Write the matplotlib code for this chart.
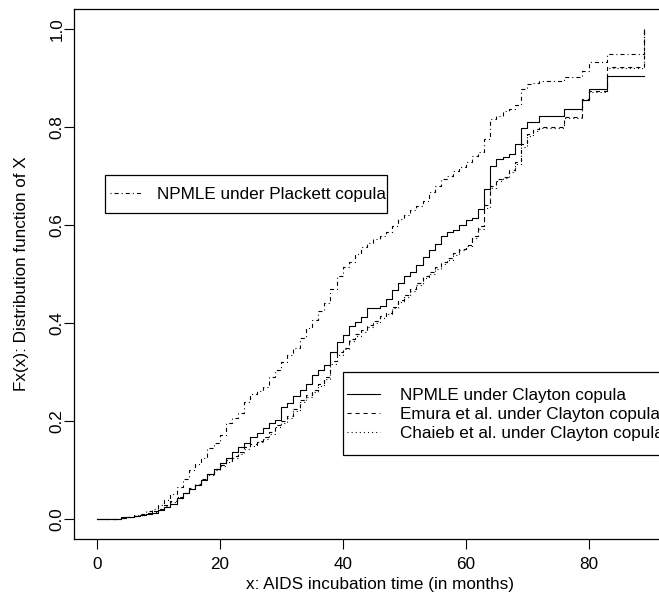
import matplotlib
matplotlib.use("Agg")
import matplotlib.pyplot as plt
from matplotlib.path import Path

plt.rcParams['font.family'] = ['Liberation Sans', 'DejaVu Sans']
plt.rcParams['lines.scale_dashes'] = False

months = list(range(0, 90))

npmle_clayton = [
    0.000, 0.000, 0.000, 0.000, 0.004, 0.005, 0.007, 0.008, 0.010, 0.013,
    0.018, 0.024, 0.031, 0.042, 0.053, 0.061, 0.069, 0.080, 0.091, 0.103,
    0.114, 0.124, 0.136, 0.147, 0.156, 0.168, 0.176, 0.185, 0.196, 0.203,
    0.229, 0.237, 0.252, 0.264, 0.276, 0.294, 0.304, 0.315, 0.340, 0.362,
    0.375, 0.393, 0.403, 0.413, 0.431, 0.431, 0.434, 0.450, 0.468, 0.482,
    0.495, 0.505, 0.519, 0.535, 0.550, 0.562, 0.577, 0.585, 0.590, 0.600,
    0.610, 0.615, 0.632, 0.673, 0.720, 0.734, 0.738, 0.744, 0.765, 0.797,
    0.810, 0.810, 0.822, 0.822, 0.822, 0.822, 0.836, 0.836, 0.836, 0.855,
    0.877, 0.877, 0.877, 0.904, 0.904, 0.904, 0.904, 0.904, 0.904, 0.904]

emura_clayton = [
    0.000, 0.000, 0.000, 0.000, 0.003, 0.005, 0.007, 0.009, 0.012, 0.016,
    0.021, 0.028, 0.036, 0.045, 0.054, 0.063, 0.071, 0.081, 0.091, 0.102,
    0.111, 0.120, 0.128, 0.136, 0.146, 0.153, 0.160, 0.167, 0.178, 0.192,
    0.200, 0.210, 0.225, 0.243, 0.254, 0.264, 0.276, 0.290, 0.322, 0.340,
    0.350, 0.368, 0.377, 0.386, 0.396, 0.404, 0.414, 0.421, 0.433, 0.446,
    0.458, 0.470, 0.482, 0.495, 0.505, 0.515, 0.525, 0.532, 0.542, 0.552,
    0.560, 0.577, 0.597, 0.640, 0.679, 0.693, 0.698, 0.712, 0.728, 0.765,
    0.785, 0.795, 0.800, 0.800, 0.800, 0.800, 0.820, 0.820, 0.820, 0.857,
    0.873, 0.873, 0.873, 0.922, 0.922, 0.922, 0.922, 0.922, 0.922, 1.000]

chaieb_clayton = [
    0.000, 0.000, 0.000, 0.000, 0.003, 0.005, 0.006, 0.008, 0.011, 0.015,
    0.020, 0.027, 0.035, 0.044, 0.053, 0.061, 0.069, 0.079, 0.089, 0.099,
    0.108, 0.117, 0.125, 0.133, 0.142, 0.150, 0.157, 0.164, 0.174, 0.188,
    0.196, 0.206, 0.221, 0.238, 0.250, 0.260, 0.272, 0.286, 0.316, 0.335,
    0.346, 0.363, 0.373, 0.382, 0.392, 0.400, 0.410, 0.418, 0.430, 0.442,
    0.454, 0.466, 0.478, 0.491, 0.501, 0.511, 0.521, 0.529, 0.539, 0.549,
    0.557, 0.573, 0.592, 0.634, 0.675, 0.690, 0.696, 0.708, 0.724, 0.760,
    0.781, 0.792, 0.798, 0.798, 0.798, 0.798, 0.818, 0.818, 0.818, 0.855,
    0.871, 0.871, 0.871, 0.920, 0.920, 0.920, 0.920, 0.920, 0.920, 1.000]

npmle_plackett = [
    0.000, 0.000, 0.000, 0.000, 0.003, 0.005, 0.008, 0.011, 0.016, 0.021,
    0.028, 0.038, 0.052, 0.065, 0.082, 0.100, 0.113, 0.125, 0.145, 0.155,
    0.172, 0.196, 0.207, 0.217, 0.238, 0.255, 0.262, 0.270, 0.290, 0.305,
    0.321, 0.335, 0.350, 0.370, 0.390, 0.407, 0.425, 0.440, 0.470, 0.495,
    0.515, 0.525, 0.540, 0.555, 0.564, 0.572, 0.578, 0.585, 0.598, 0.612,
    0.620, 0.630, 0.638, 0.650, 0.667, 0.680, 0.693, 0.700, 0.710, 0.718,
    0.728, 0.740, 0.750, 0.775, 0.816, 0.822, 0.832, 0.836, 0.845, 0.877,
    0.888, 0.890, 0.894, 0.894, 0.894, 0.894, 0.902, 0.902, 0.902, 0.914,
    0.932, 0.932, 0.932, 0.949, 0.949, 0.949, 0.949, 0.949, 0.949, 1.000]

x_ticks = [0, 20, 40, 60, 80]
y_ticks = [0.0, 0.2, 0.4, 0.6, 0.8, 1.0]
y_tick_labels = ["0.0", "0.2", "0.4", "0.6", "0.8", "1.0"]

label_clayton = "NPMLE under Clayton copula"
label_emura = "Emura et al. under Clayton copula"
label_chaieb = "Chaieb et al. under Clayton copula"
label_plackett = "NPMLE under Plackett copula"
x_label = "x: AIDS incubation time (in months)"
y_label = "Fx(x): Distribution function of X"

FS = 12.3
LW = 0.8
DASHED = (0, (2.9, 2.9))
DOTTED = (0, (0.75, 2.2))
DOTDASH = (0, (0.75, 2.2, 2.9, 2.2))

fig = plt.figure(figsize=(6.59, 6.01), dpi=100)
W, H = 659, 601
ax_l, ax_r, ax_t, ax_b = 74, 687, 9.4, 538.6
ax = fig.add_axes([ax_l / W, 1 - ax_b / H, (ax_r - ax_l) / W, (ax_b - ax_t) / H])

l1, = ax.step(months, npmle_clayton, where='post', color='black', lw=LW, linestyle='-')
l2, = ax.step(months, emura_clayton, where='post', color='black', lw=LW, linestyle=DASHED)
l3, = ax.step(months, chaieb_clayton, where='post', color='black', lw=LW, linestyle=DOTTED)
l4, = ax.step(months, npmle_plackett, where='post', color='black', lw=LW, linestyle=DOTDASH)

ax.set_xlim(-3.69, 96.0)
ax.set_ylim(-0.04, 1.04)
ax.set_xticks(x_ticks)
ax.set_xticklabels([str(v) for v in x_ticks])
ax.set_yticks(y_ticks)
ax.set_yticklabels(y_tick_labels, rotation=90, va='center')
ax.tick_params(axis='both', length=7.5, width=0.8, labelsize=FS, color='black')
ax.tick_params(axis='x', pad=6)
ax.tick_params(axis='y', pad=-0.5)
for sp in ax.spines.values():
    sp.set_linewidth(0.9)
    sp.set_color('black')

fig.text(((ax_l + ax_r) / 2) / W, 1 - 585 / H, x_label, ha='center', va='center', fontsize=FS)
fig.text(22 / W, 1 - ((ax_t + ax_b) / 2) / H, y_label, ha='center', va='center',
         rotation=90, fontsize=FS)


def frame_style(dl, dr, dt, db):
    # R-style legend box: small side padding, larger vertical padding
    def box(x0, y0, width, height, mutation_size):
        xa, xb = x0 + dl, x0 + width - dr
        ya, yb = y0 - db, y0 + height + dt
        return Path([(xa, ya), (xb, ya), (xb, yb), (xa, yb), (xa, ya)], closed=True)
    return box


base_kw = dict(fontsize=FS, frameon=True, fancybox=False, shadow=False,
               edgecolor='black', framealpha=1, borderpad=0.72,
               labelspacing=0.22, borderaxespad=0,
               loc='upper left', bbox_transform=fig.transFigure)

leg1 = ax.legend([l4], [label_plackett], bbox_to_anchor=(97.7 / W, 1 - 175 / H),
                 handlelength=1.87, handletextpad=0.86, **base_kw)
leg1.get_frame().set_linewidth(0.9)
leg1.get_frame().set_boxstyle(frame_style(7.8, 10.5, 0, -1.5))
ax.add_artist(leg1)

leg2 = ax.legend([l1, l2, l3], [label_clayton, label_emura, label_chaieb],
                 bbox_to_anchor=(334.7 / W, 1 - 376 / H),
                 handlelength=1.93, handletextpad=1.17, **base_kw)
leg2.get_frame().set_linewidth(0.9)
leg2.get_frame().set_boxstyle(frame_style(8.3, 0, 4, 2))

fig.savefig("out.png", dpi=100)
